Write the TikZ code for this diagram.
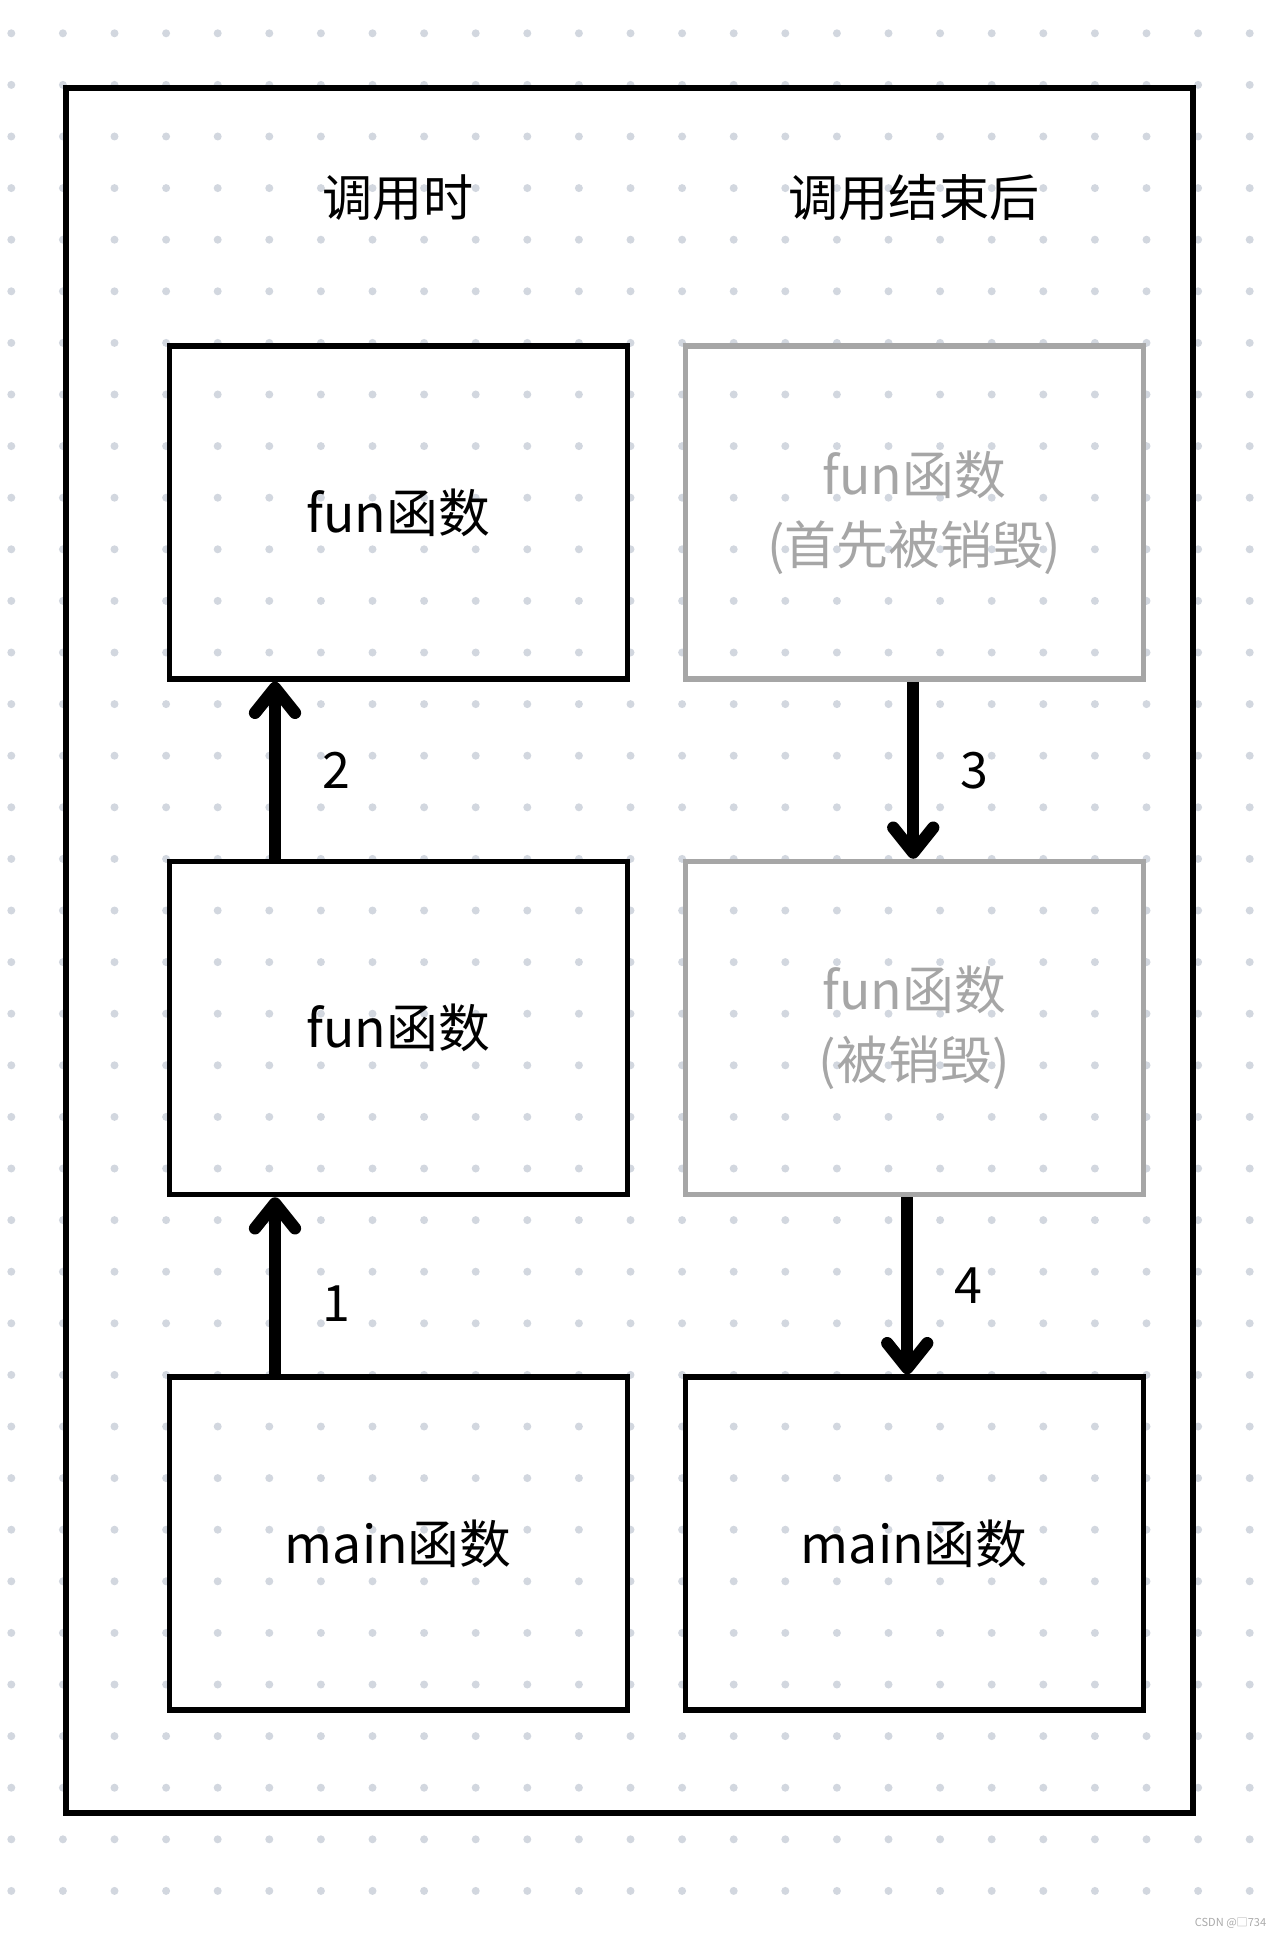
\documentclass[tikz,border=0pt]{standalone}
\usepackage{fontspec}
\newfontfamily\cjk{Noto Sans CJK SC}
\usetikzlibrary{arrows.meta,positioning}
\definecolor{dotgrey}{HTML}{D2D7DF}
\definecolor{gonegrey}{HTML}{A6A6A6}
\definecolor{markgrey}{HTML}{AAAAAA}

\begin{document}
\begin{tikzpicture}[
    font=\cjk\fontsize{28.5}{39.5}\selectfont,
    frame/.style={draw, line width=0.11cm},
    box/.style={draw, line width=0.11cm, minimum width=9.16cm,
                minimum height=6.66cm, align=center,
                font=\cjk\fontsize{29.5}{40}\selectfont},
    gone/.style={box, draw=gonegrey, text=gonegrey},
    flow/.style={line width=0.245cm,
                 -{Straight Barb[length=0.5cm, width=0.8cm, round]}},
    node distance=3.54cm and 1.05cm
]
\useasboundingbox (0,0) rectangle (25.56,-38.72);

% dotted paper
\foreach \i in {0,...,24}
  \foreach \j in {0,...,36}
    \fill[dotgrey] (0.226+1.032*\i, -0.666-1.032*\j) circle (0.08);

\draw[frame] (1.32,-1.76) rectangle (23.86,-36.26);

% while the call runs
\node (during) at (7.96,-3.96) {调用时};
\node[box] (funA) at (7.965,-10.25) {fun函数};
\node[box, below=of funA] (funB) {fun函数};
\node[box, below=of funB] (mainA) {main函数};

% after the call
\node (after) at (18.28,-3.96) {调用结束后};
\node[gone, right=of funA] (funC) {fun函数\\(首先被销毁)};
\node[gone, below=of funC] (funD) {fun函数\\(被销毁)};
\node[box, below=of funD] (mainB) {main函数};

\draw[flow] ([xshift=-2.465cm]mainA.north) -- ([xshift=-2.465cm]funB.south)
    node[pos=0.4, xshift=1.22cm] {1};
\draw[flow] ([xshift=-2.465cm]funB.north) -- ([xshift=-2.465cm]funA.south)
    node[midway, xshift=1.22cm] {2};
\draw[flow] ([xshift=-0.02cm]funC.south) -- ([xshift=-0.02cm]funD.north)
    node[midway, xshift=1.22cm] {3};
\draw[flow] ([xshift=-0.14cm]funD.south) -- ([xshift=-0.14cm]mainB.north)
    node[midway, xshift=1.22cm] {4};

\node[font=\cjk\fontsize{6.3}{7}\selectfont, text=markgrey] (mark)
    at (24.61,-38.46) {CSDN @□734};
\end{tikzpicture}
\end{document}
